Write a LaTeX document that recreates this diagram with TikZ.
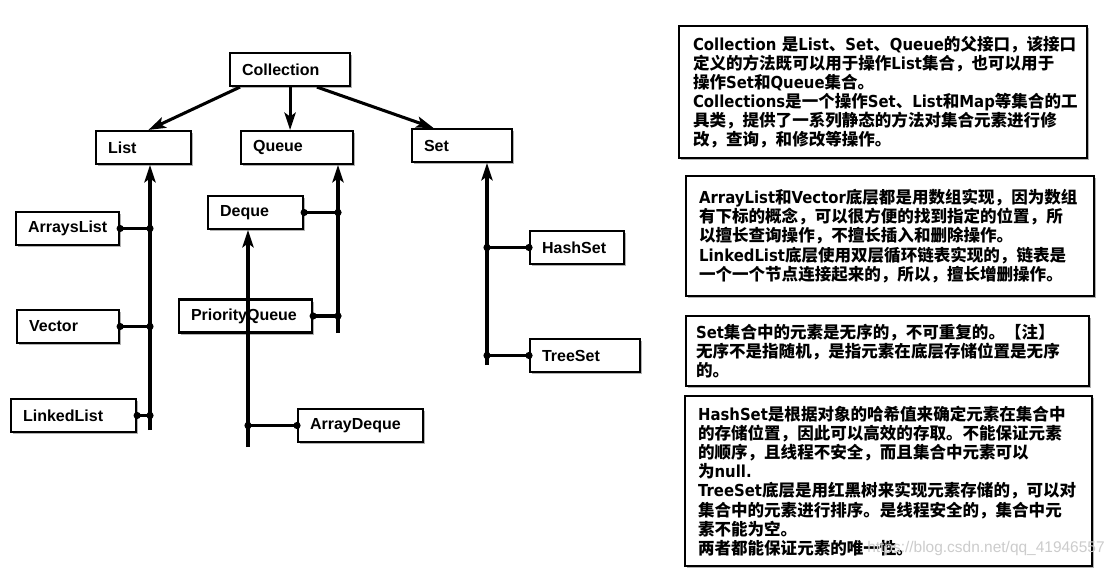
\documentclass[tikz,border=0pt]{standalone}
\usepackage{fontspec}
\setmainfont{Liberation Sans}
\newfontfamily\cjkfont{Noto Sans CJK SC}
\newfontfamily\latfont{DejaVu Sans}[FakeStretch=0.9]
\usetikzlibrary{arrows.meta,shadows,calc}
\newcommand{\La}[1]{{\latfont\bfseries #1}}
\begin{document}
\begin{tikzpicture}[x=0.75pt,y=-0.75pt,
  shad/.style={drop shadow={shadow xshift=1.8pt,shadow yshift=-1.8pt,fill=black,opacity=0.3}},
  cls/.style={draw,line width=1.6pt,fill=white,shad,anchor=west,align=left,inner xsep=9pt,inner ysep=0pt,minimum height=24.75pt,font=\bfseries\fontsize{12}{14}\selectfont},
  note/.style={draw,line width=1.6pt,fill=white,shad,anchor=north west,align=left,inner ysep=0pt,font=\cjkfont\bfseries\fontsize{12.4}{14.3}\selectfont},
  conn/.style={line width=2.3pt},
  arr/.style={conn,-{Stealth[length=13pt,width=8.5pt,inset=3pt]}},
  jdot/.style={fill=black}
]
\useasboundingbox (0,0) rectangle (1120,574);

% class boxes
\node[cls,text width=72pt]    (Collection)    at (229,69.5)  {Collection};
\node[cls,text width=53.25pt] (List)          at (95,147.5)  {List};
\node[cls,text width=66pt]    (Queue)         at (240,147.5) {Queue};
\node[cls,text width=57pt]    (Set)           at (411,145.5) {Set};
\node[cls,text width=52.5pt]  (HashSet)       at (529,247.5) {HashSet};
\node[cls,text width=64.5pt]  (TreeSet)       at (529,355.5) {TreeSet};
\node[cls,text width=59.25pt] (ArraysList)    at (15,228.5)  {ArraysList};
\node[cls,text width=58.5pt]  (Vector)        at (16,326.5)  {Vector};
\node[cls,text width=75.75pt] (LinkedList)    at (10,415.5)  {LinkedList};
\node[cls,text width=53.25pt] (Deque)         at (207,212.5) {Deque};
\node[cls,text width=81.75pt] (PriorityQueue) at (178,316)   {PriorityQueue};
\node[cls,text width=75.75pt] (ArrayDeque)    at (297,425.5) {ArrayDeque};

% note boxes
\node[note,inner xsep=10.5pt,text width=285pt,minimum height=99pt] (B1) at (678,25) {%
\La{Collection}~是\La{List}、\La{Set}、\La{Queue}的父接口，该接口\\
定义的方法既可以用于操作\La{List}集合，也可以用于\\
操作\La{Set}和\La{Queue}集合。\\
\La{Collections}是一个操作\La{Set}、\La{List}和\La{Map}等集合的工\\
具类，提供了一系列静态的方法对集合元素进行修\\
改，查询，和修改等操作。};
\node[note,inner xsep=9.75pt,text width=286.5pt,minimum height=90pt] (B2) at (685,175) {%
\La{ArrayList}和\La{Vector}底层都是用数组实现，因为数组\\
有下标的概念，可以很方便的找到指定的位置，所\\
以擅长查询操作，不擅长插入和删除操作。\\
\La{LinkedList}底层使用双层循环链表实现的，链表是\\
一个一个节点连接起来的，所以，擅长增删操作。};
\node[note,inner xsep=7.5pt,text width=287.25pt,minimum height=52.5pt] (B3) at (685,315) {%
\La{Set}集合中的元素是无序的，不可重复的。【注】\\
无序不是指随机，是指元素在底层存储位置是无序\\
的。};
\node[note,inner xsep=9.75pt,text width=285.75pt,minimum height=127.5pt] (B4) at (684,395) {%
\La{HashSet}是根据对象的哈希值来确定元素在集合中\\
的存储位置，因此可以高效的存取。不能保证元素\\
的顺序，且线程不安全，而且集合中元素可以\\
为\La{null.}\\
\La{TreeSet}底层是用红黑树来实现元素存储的，可以对\\
集合中的元素进行排序。是线程安全的，集合中元\\
素不能为空。\\
两者都能保证元素的唯一性。};

% top arrows
\draw[arr] ($(Collection.south west)!0.09!(Collection.south east)$) -- ($(List.north west)!0.55!(List.north east)$);
\draw[arr] (Collection.south) -- (Collection.south |- Queue.north);
\draw[arr] ($(Collection.south west)!0.72!(Collection.south east)$) -- ($(Set.north west)!0.22!(Set.north east)$);

% trunks
\coordinate (Lb) at (150,430);
\coordinate (Qb) at (338,333);
\coordinate (Db) at (248,447);
\coordinate (Sb) at (487,365);
\coordinate (jAL) at (Lb |- ArraysList.east);
\coordinate (jV)  at (Lb |- Vector.east);
\coordinate (jLL) at (Lb |- LinkedList.east);
\coordinate (jDq) at (Qb |- Deque.east);
\coordinate (jPQ) at (Qb |- PriorityQueue.east);
\coordinate (jAD) at (Db |- ArrayDeque.west);
\coordinate (jHS) at (Sb |- HashSet.west);
\coordinate (jTS) at (Sb |- TreeSet.west);

\draw[arr] (Lb) -- (Lb |- List.south);
\draw[arr] (Qb) -- (Qb |- Queue.south);
\draw[arr] (Db) -- (Db |- Deque.south);
\draw[arr] (Sb) -- (Sb |- Set.south);

\draw[conn] (ArraysList.east) -- (jAL);
\draw[conn] (Vector.east) -- (jV);
\draw[conn] (LinkedList.east) -- (jLL);
\draw[conn] (Deque.east) -- (jDq);
\draw[conn] (PriorityQueue.east) -- (jPQ);
\draw[conn] (ArrayDeque.west) -- (jAD);
\draw[conn] (HashSet.west) -- (jHS);
\draw[conn] (TreeSet.west) -- (jTS);

\foreach \p in {ArraysList.east,jAL,Vector.east,jV,LinkedList.east,jLL,Deque.east,jDq,PriorityQueue.east,jPQ,ArrayDeque.west,jAD,HashSet.west,jHS,TreeSet.west,jTS}
  \fill[jdot] (\p) circle[radius=2.7pt];

% watermark
\node[anchor=west,inner sep=0pt,text=black!20,font=\fontsize{11.6}{14}\selectfont] (wm) at (867,548) {https://blog.csdn.net/qq\_41946557};
\end{tikzpicture}
\end{document}
